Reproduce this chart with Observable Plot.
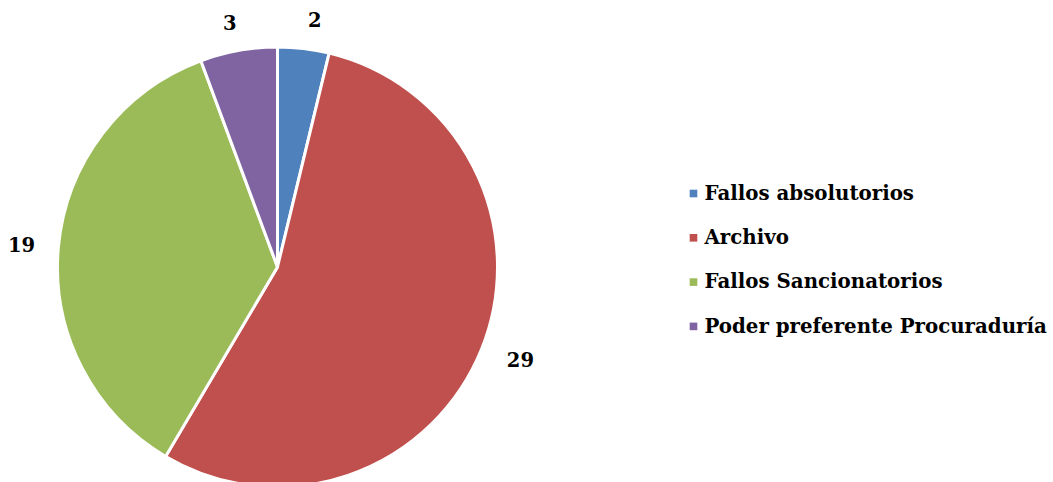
<!DOCTYPE html>
<html><head><meta charset="utf-8">
<script src="https://cdn.jsdelivr.net/npm/d3@7"></script>
<script src="https://cdn.jsdelivr.net/npm/@observablehq/plot@0.6"></script>
<style>body{margin:0;background:#fff;overflow:hidden}</style>
</head><body><div id="chart"></div>
<script>
const categories = ["Fallos absolutorios", "Archivo", "Fallos Sancionatorios", "Poder preferente Procuraduría"];
const values = [2, 29, 19, 3];
const colors = ["#4F81BD", "#C0504D", "#9BBB59", "#8064A2"];
const labels = ["2", "29", "19", "3"];

const W = 1053, H = 482;
const cx = 277.5, cy = 267, R = 220;
const FONT = "'DejaVu Serif', serif";

const data = categories.map((c, i) => ({category: c, value: values[i], label: labels[i]}));
const arcs = d3.pie().sort(null).value(d => d.value)(data);

// label positions from slice mid-angles
const labelData = arcs.map(a => {
  const m = (a.startAngle + a.endAngle) / 2;
  const s = Math.sin(m), c = Math.cos(m);
  const w = a.data.label.length * 12;
  return {label: a.data.label, x: cx + 247 * s + Math.sign(s) * w / 2 + 1.5, y: cy - 247 * c - c * 1};
});
const legendData = categories.map((c, i) => ({category: c, row: i}));

const pieMark = (index, scales) => {
  const g = d3.create("svg:g");
  const arc = d3.arc().innerRadius(0).outerRadius(R);
  g.selectAll("path").data(arcs).join("path")
    .attr("transform", `translate(${cx},${cy})`)
    .attr("d", arc)
    .attr("fill", d => scales.color(d.data.category))
    .attr("stroke", "#fff")
    .attr("stroke-width", 3)
    .attr("stroke-linejoin", "miter");
  return g.node();
};

const chart = Plot.plot({
  width: W, height: H, margin: 0,
  x: {type: "identity", axis: null}, y: {type: "identity", axis: null},
  color: {domain: categories, range: colors},
  style: {fontFamily: FONT, background: "#fff"},
  marks: [
    pieMark,
    Plot.text(labelData, {x: "x", y: "y", text: "label", fontSize: 19.5, fontWeight: "bold", fill: "#000"}),
    Plot.dot(legendData, {x: () => 693, y: d => 193 + d.row * 44.3, symbol: "square", r: 4.3, fill: "category", stroke: null}),
    Plot.text(legendData, {x: () => 704, y: d => 193 + d.row * 44.3, text: "category", textAnchor: "start", fontSize: 19.8, fontWeight: "bold", fill: "#000"})
  ]
});
document.getElementById("chart").appendChild(chart);
</script></body></html>
